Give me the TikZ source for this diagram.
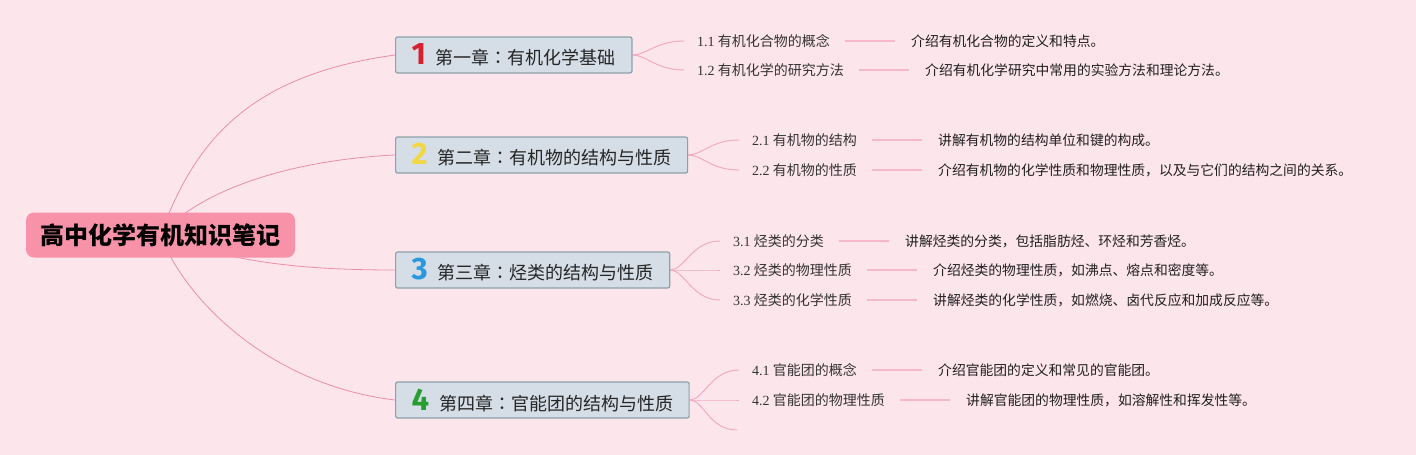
\documentclass[tikz,border=0pt]{standalone}
\usepackage{fontspec}
\setmainfont{Liberation Serif}
\newfontfamily\cjk{Noto Sans CJK SC}
\newfontfamily\cjktc{Noto Sans CJK TC}
\newfontfamily\numfont{Fira Sans}
\usetikzlibrary{positioning}
\pgfdeclarelayer{bg}
\pgfsetlayers{bg,main}

\definecolor{bgpink}{RGB}{253,229,236}
\definecolor{rootpink}{RGB}{248,146,168}
\definecolor{chapfill}{RGB}{213,221,231}
\definecolor{chapline}{RGB}{140,162,168}
\definecolor{linkpink}{RGB}{234,142,172}
\definecolor{twigpink}{RGB}{243,170,195}
\definecolor{leafpink}{RGB}{246,184,205}
\definecolor{numred}{RGB}{214,32,46}
\definecolor{numyellow}{RGB}{244,214,62}
\definecolor{numblue}{RGB}{42,152,222}
\definecolor{numgreen}{RGB}{38,158,48}

\tikzset{
  root/.style={fill=rootpink, rounded corners=8pt, minimum width=269pt,
    minimum height=45pt, font=\cjk\bfseries\fontsize{24}{28}\selectfont},
  chapter/.style={draw=chapline, fill=chapfill, line width=1.2pt,
    rounded corners=2pt, minimum height=36pt, inner xsep=16pt, anchor=west,
    text=black!85, font=\cjk\fontsize{18}{22}\selectfont},
  topic/.style={inner xsep=13pt, inner ysep=2pt, anchor=west, text=black!80,
    font=\cjk\fontsize{14}{16}\selectfont},
  note/.style={inner xsep=12pt, inner ysep=2pt, right=56pt of #1,
    text=black!88, font=\cjk\fontsize{13.8}{16}\selectfont},
  link/.style={draw=linkpink, line width=0.8pt},
  twig/.style={draw=twigpink, line width=1pt},
  leaf/.style={draw=leafpink, line width=1.5pt, shorten <=2pt, shorten >=4pt},
}
\newcommand\chapnum[2]{{\numfont\bfseries\fontsize{31}{31}\selectfont\color{#1}#2}\hspace{10pt}}
\newcommand\chapcolon{{\cjktc ：}}

\begin{document}
\begin{tikzpicture}[x=1pt,y=-1pt]
  \node[root] (root) at (160.5,235) {高中化学有机知识笔记};

  % chapters
  \node[chapter] (ch1) at (395,55) {\chapnum{numred}{1}第一章\chapcolon 有机化学基础};
  \node[chapter] (ch2) at (395,155) {\chapnum{numyellow}{2}第二章\chapcolon 有机物的结构与性质};
  \node[chapter] (ch3) at (395,270) {\chapnum{numblue}{3}第三章\chapcolon 烃类的结构与性质};
  \node[chapter] (ch4) at (395,400) {\chapnum{numgreen}{4}第四章\chapcolon 官能团的结构与性质};

  % chapter 1
  \node[topic] (s11) at (684,41) {\textrm{1.1} 有机化合物的概念};
  \node[topic] (s12) at (684,70) {\textrm{1.2} 有机化学的研究方法};
  \node[note=s11] (d11) {介绍有机化合物的定义和特点。};
  \node[note=s12] (d12) {介绍有机化学研究中常用的实验方法和理论方法。};

  % chapter 2
  \node[topic] (s21) at (739,140) {\textrm{2.1} 有机物的结构};
  \node[topic] (s22) at (739,170) {\textrm{2.2} 有机物的性质};
  \node[note=s21] (d21) {讲解有机物的结构单位和键的构成。};
  \node[note=s22] (d22) {介绍有机物的化学性质和物理性质，以及与它们的结构之间的关系。};

  % chapter 3
  \node[topic] (s31) at (720,241) {\textrm{3.1} 烃类的分类};
  \node[topic] (s32) at (720,270) {\textrm{3.2} 烃类的物理性质};
  \node[topic] (s33) at (720,300) {\textrm{3.3} 烃类的化学性质};
  \node[note=s31] (d31) {讲解烃类的分类，包括脂肪烃、环烃和芳香烃。};
  \node[note=s32] (d32) {介绍烃类的物理性质，如沸点、熔点和密度等。};
  \node[note=s33] (d33) {讲解烃类的化学性质，如燃烧、卤代反应和加成反应等。};

  % chapter 4
  \node[topic] (s41) at (739,370) {\textrm{4.1} 官能团的概念};
  \node[topic] (s42) at (739,400) {\textrm{4.2} 官能团的物理性质};
  \coordinate (s43) at (737,430);
  \node[note=s41] (d41) {介绍官能团的定义和常见的官能团。};
  \node[note=s42] (d42) {讲解官能团的物理性质，如溶解性和挥发性等。};

  \begin{pgfonlayer}{bg}
    \fill[bgpink] (0,0) rectangle (1416,455);

    \draw[link] (root.center) .. controls (195,140) and (250,75) .. (ch1.west);
    \draw[link] (root.center) .. controls (200,190) and (290,160) .. (ch2.west);
    \draw[link] (root.center) .. controls (230,262) and (300,270) .. (ch3.west);
    \draw[link] (root.center) .. controls (185,300) and (270,385) .. (ch4.west);

    \foreach \s in {s11,s12}
      \draw[twig] (ch1.east) .. controls +(14,0) and +(-28,0) .. (\s.west);
    \foreach \s in {s21,s22}
      \draw[twig] (ch2.east) .. controls +(14,0) and +(-28,0) .. (\s.west);
    \foreach \s in {s31,s32,s33}
      \draw[twig] (ch3.east) .. controls +(14,0) and +(-28,0) .. (\s.west);
    \foreach \s in {s41,s42}
      \draw[twig] (ch4.east) .. controls +(14,0) and +(-28,0) .. (\s.west);
    \draw[twig] (ch4.east) .. controls +(14,0) and +(-28,0) .. (s43);

    \foreach \n in {11,12,21,22,31,32,33,41,42}
      \draw[leaf] (s\n) -- (d\n);
  \end{pgfonlayer}
\end{tikzpicture}
\end{document}
